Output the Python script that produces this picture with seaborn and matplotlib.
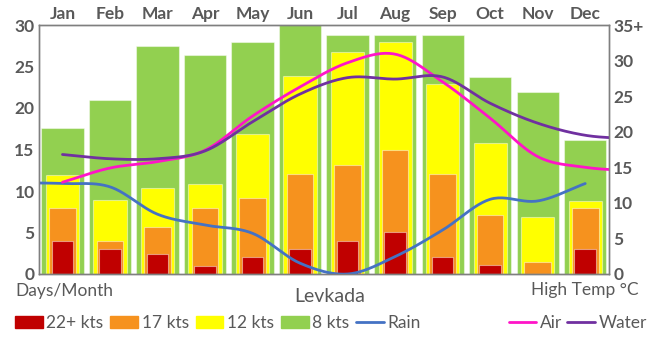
import numpy as np
import pandas as pd
import matplotlib
matplotlib.use("Agg")
import matplotlib.pyplot as plt
import seaborn as sns
from matplotlib.patches import Patch
from matplotlib.lines import Line2D

# ---------------- data ----------------
months = ["Jan", "Feb", "Mar", "Apr", "May", "Jun", "Jul", "Aug", "Sep", "Oct", "Nov", "Dec"]
kts8 = [17.6, 21.0, 27.5, 26.4, 27.9, 30.0, 28.8, 28.8, 28.8, 23.7, 21.9, 16.2]
kts12 = [11.9, 8.9, 10.4, 10.9, 16.9, 23.8, 26.8, 27.9, 22.9, 15.8, 6.9, 8.8]
kts17 = [8.0, 4.0, 5.7, 8.0, 9.1, 12.0, 13.1, 15.0, 12.0, 7.1, 1.5, 8.0]
kts22 = [4.0, 3.0, 2.4, 1.0, 2.0, 3.0, 4.0, 5.1, 2.0, 1.1, 0.0, 3.0]
rain = [10.9, 10.5, 7.2, 5.9, 4.9, 1.3, 0.0, 2.1, 5.3, 9.0, 8.8, 10.9]
air = [12.9, 14.9, 15.8, 17.4, 22.2, 26.3, 29.7, 30.9, 27.0, 21.9, 16.5, 15.0]
water = [16.8, 16.2, 16.2, 17.3, 21.4, 25.3, 27.6, 27.4, 27.7, 24.0, 21.2, 19.5]
# values of the extra (clipped) points just outside the plot edges
rain_before = 11.0
air_after = 14.5
water_after = 19.0
left_ticks = [0, 5, 10, 15, 20, 25, 30]
right_ticks = [0, 5, 10, 15, 20, 25, 30, 35]
right_tick_labels = ["0", "5", "10", "15", "20", "25", "30", "35+"]

# ---------------- style ----------------
sns.set_theme(style="white")
plt.rcParams["font.family"] = ["Lato", "DejaVu Sans"]
TXT = "#595959"
C_RED, C_ORG, C_YEL, C_GRN = "#C00000", "#F6921E", "#FFFF00", "#92D050"
C_RAIN, C_AIR, C_WAT = "#4472C4", "#FF14C8", "#7030A0"


def smooth(xs, ys, n=24):
    xs = np.asarray(xs, float)
    ys = np.asarray(ys, float)
    m = np.zeros_like(ys)
    m[1:-1] = (ys[2:] - ys[:-2]) / 2.0
    m[0] = ys[1] - ys[0]
    m[-1] = ys[-1] - ys[-2]
    ox, oy = [], []
    for i in range(len(ys) - 1):
        t = np.linspace(0, 1, n, endpoint=False)
        h00 = 2 * t**3 - 3 * t**2 + 1
        h10 = t**3 - 2 * t**2 + t
        h01 = -2 * t**3 + 3 * t**2
        h11 = t**3 - t**2
        oy.append(h00 * ys[i] + h10 * m[i] + h01 * ys[i + 1] + h11 * m[i + 1])
        ox.append(xs[i] + t * (xs[i + 1] - xs[i]))
    ox.append([xs[-1]])
    oy.append([ys[-1]])
    return np.concatenate(ox), np.concatenate(oy)


fig = plt.figure(figsize=(6.48, 3.4), dpi=100)
ax = fig.add_axes([38.7 / 648, 1 - 274 / 340, (609 - 38.7) / 648, (274 - 25) / 340])

df = pd.DataFrame({"month": months, "k8": kts8, "k12": kts12, "k17": kts17, "k22": kts22})
edge = (1, 1, 1, 0.45)
sns.barplot(data=df, x="month", y="k8", color=C_GRN, width=0.89, saturation=1,
            edgecolor=edge, linewidth=0.8, ax=ax)
sns.barplot(data=df, x="month", y="k12", color=C_YEL, width=0.70, saturation=1,
            edgecolor=edge, linewidth=0.8, ax=ax)
sns.barplot(data=df, x="month", y="k17", color=C_ORG, width=0.56, saturation=1,
            edgecolor=edge, linewidth=0.8, ax=ax)
sns.barplot(data=df, x="month", y="k22", color=C_RED, width=0.455, saturation=1,
            edgecolor=edge, linewidth=0.8, ax=ax)

pos = np.arange(len(months))
rx, ry = smooth(np.concatenate([[-1], pos]), [rain_before] + rain)
sns.lineplot(x=rx, y=ry, color=C_RAIN, linewidth=2.0, ax=ax, sort=False, zorder=5)

ax.set_xlim(-0.5, 11.5)
ax.set_ylim(0, 30)
ax.set_yticks(left_ticks)
ax.set_xlabel("")
ax.set_ylabel("")
ax.xaxis.set_ticks_position("top")
ax.tick_params(axis="x", length=0, pad=2, labelsize=12.5, labelcolor=TXT)
ax.tick_params(axis="y", length=0, pad=3, labelsize=12.5, labelcolor=TXT)
for lab in ax.get_xticklabels() + ax.get_yticklabels():
    lab.set_fontweight("bold")

ax2 = ax.twinx()
axx, axy = smooth(np.concatenate([pos, [12]]), air + [air_after])
wx, wy = smooth(np.concatenate([pos, [12]]), water + [water_after])
sns.lineplot(x=axx, y=axy, color=C_AIR, linewidth=2.0, ax=ax2, sort=False)
sns.lineplot(x=wx, y=wy, color=C_WAT, linewidth=2.0, ax=ax2, sort=False)
ax2.set_xlim(-0.5, 11.5)
ax2.set_ylim(0, 35)
ax2.set_yticks(right_ticks)
ax2.set_yticklabels(right_tick_labels)
ax2.set_ylabel("")
ax2.tick_params(axis="y", length=0, pad=3, labelsize=12.5, labelcolor=TXT)
for lab in ax2.get_yticklabels():
    lab.set_fontweight("bold")
ax2.grid(False)
ax.grid(False)

for a in (ax, ax2):
    for s in a.spines.values():
        s.set_color("#7F7F7F")
        s.set_linewidth(1.0)
        s.set_visible(True)

fig.text(15 / 648, 1 - 291 / 340, "Days/Month", ha="left", va="center", fontsize=12.5, color=TXT)
fig.text(639 / 648, 1 - 290 / 340, "High Temp °C", ha="right", va="center", fontsize=12.5, color=TXT)
fig.text(330 / 648, 1 - 297 / 340, "Levkada", ha="center", va="center", fontsize=14, color=TXT)

h1 = [Patch(color=C_RED), Patch(color=C_ORG), Patch(color=C_YEL), Patch(color=C_GRN),
      Line2D([], [], color=C_RAIN, linewidth=2)]
l1 = ["22+ kts", "17 kts", "12 kts", "8 kts", "Rain"]
leg1 = fig.legend(h1, l1, loc="center left", bbox_to_anchor=(15 / 648, 1 - 323 / 340), ncol=5,
                  frameon=False, handlelength=1.6, handletextpad=0.2, columnspacing=0.4,
                  fontsize=12.5, labelcolor=TXT, borderaxespad=0, borderpad=0)
h2 = [Line2D([], [], color=C_AIR, linewidth=2), Line2D([], [], color=C_WAT, linewidth=2)]
leg2 = fig.legend(h2, ["Air", "Water"], loc="center right", bbox_to_anchor=(647 / 648, 1 - 323 / 340),
                  ncol=2, frameon=False, handlelength=1.6, handletextpad=0.2, columnspacing=0.3,
                  fontsize=12.5, labelcolor=TXT, borderaxespad=0, borderpad=0)

fig.savefig("out.png", dpi=100)
